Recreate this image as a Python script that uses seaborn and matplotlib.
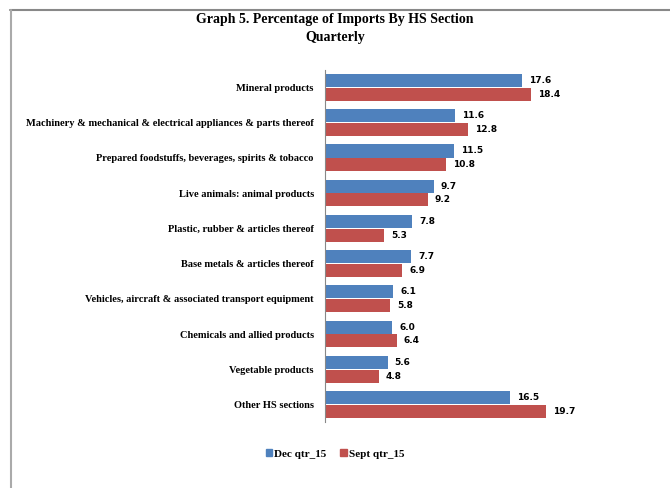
import matplotlib
matplotlib.use("Agg")
import matplotlib.pyplot as plt
import pandas as pd
import seaborn as sns
from matplotlib.lines import Line2D

categories = [
    "Mineral products",
    "Machinery & mechanical & electrical appliances & parts thereof",
    "Prepared foodstuffs, beverages, spirits & tobacco",
    "Live animals: animal products",
    "Plastic, rubber & articles thereof",
    "Base metals & articles thereof",
    "Vehicles, aircraft & associated transport equipment",
    "Chemicals and allied products",
    "Vegetable products",
    "Other HS sections",
]
dec_qtr = [17.6, 11.6, 11.5, 9.7, 7.8, 7.7, 6.1, 6.0, 5.6, 16.5]
sept_qtr = [18.4, 12.8, 10.8, 9.2, 5.3, 6.9, 5.8, 6.4, 4.8, 19.7]
series = ["Dec qtr_15", "Sept qtr_15"]
colors = ["#4F81BD", "#C0504D"]

# long format for seaborn
frame = pd.DataFrame({
    "Section": categories * 2,
    "Value": dec_qtr + sept_qtr,
    "Quarter": [series[0]] * len(categories) + [series[1]] * len(categories),
})

sns.set_style("white")
plt.rcParams["text.color"] = "black"
plt.rcParams["ytick.color"] = "black"
serif = ["Liberation Serif", "DejaVu Serif"]

fig = plt.figure(figsize=(6.7, 4.88), dpi=100)
ax = fig.add_axes([0.485, 0.135, 0.448, 0.722])

sns.barplot(data=frame, y="Section", x="Value", hue="Quarter", orient="h",
            palette=colors, saturation=1, width=0.78, gap=0.05, ax=ax,
            legend=False, edgecolor="none")

for cont in ax.containers:
    ax.bar_label(cont, fmt="%.1f", padding=5, fontsize=6.5,
                 fontweight="bold", family="DejaVu Sans", color="black")

ax.set_xlim(0, 26.8)
ax.set_ylim(9.5, -0.5)
ax.set_xlabel("")
ax.set_ylabel("")
ax.set_xticks([])
ax.set_yticks([i - 0.5 for i in range(len(categories) + 1)], minor=True)
ax.tick_params(axis="y", which="minor", length=3, color="#888888", width=0.8,
               direction="out")
ax.tick_params(axis="y", which="major", length=0, pad=8)
for lab in ax.get_yticklabels():
    lab.set_fontsize(7.5)
    lab.set_fontweight("bold")
    lab.set_family(serif)
    lab.set_color("black")

for side in ["top", "right", "bottom"]:
    ax.spines[side].set_visible(False)
ax.spines["left"].set_color("#888888")
ax.spines["left"].set_linewidth(0.8)

fig.text(0.5, 0.973, "Graph 5. Percentage of Imports By HS Section\nQuarterly",
         ha="center", va="top", fontsize=10, fontweight="bold",
         family=serif, linespacing=1.45, color="black")

handles = [plt.Rectangle((0, 0), 1, 1, color=c) for c in colors]
fig.legend(handles, series, loc="center", bbox_to_anchor=(0.5, 0.07),
           ncol=2, frameon=False, handlelength=0.6, handleheight=0.6,
           handletextpad=0.2, columnspacing=1.2,
           prop={"family": serif, "weight": "bold", "size": 8})

# chart frame (only top and left edges show)
fig.add_artist(Line2D([0.015, 1.0], [0.98, 0.98], color="#888888", lw=1.5))
fig.add_artist(Line2D([0.016, 0.016], [0.0, 0.98], color="#aaaaaa", lw=1.5))

fig.savefig("out.png", dpi=100)
